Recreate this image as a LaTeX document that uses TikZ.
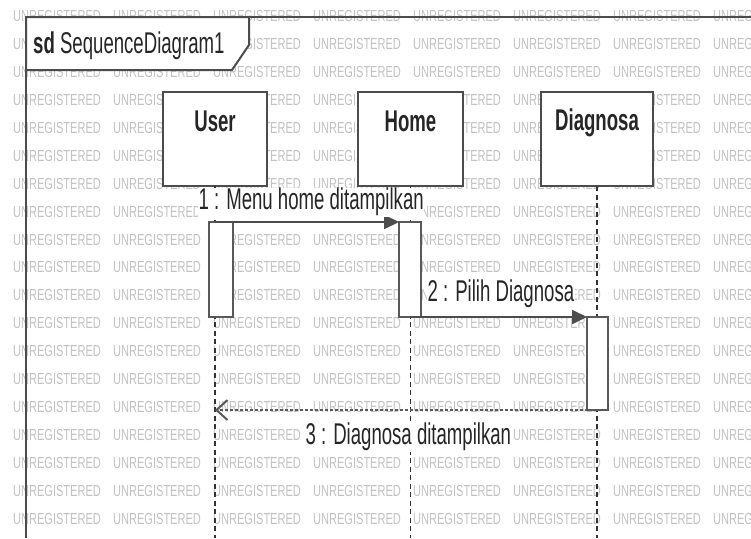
\documentclass[tikz,border=0pt]{standalone}
\usepackage{fontspec}
\usetikzlibrary{arrows.meta}
% Condensed sans for the diagram text and the tiled watermark
\newfontfamily\umlfont[FakeStretch=0.62]{Liberation Sans}
\newfontfamily\wmfont[FakeStretch=0.69]{Liberation Sans}

\begin{document}
\begin{tikzpicture}[x=1pt,y=-1pt,
  wm/.style={font=\wmfont\fontsize{16}{16}\selectfont, text=black!24, anchor=west, inner sep=0pt},
  frameline/.style={draw=black!70, line width=2pt},
  titletext/.style={font=\umlfont\fontsize{30}{30}\selectfont, text=black!85, anchor=base west, inner sep=0pt},
  lifebox/.style={draw=black!70, line width=2pt, fill=white, minimum width=104pt, minimum height=94pt, inner sep=0pt, outer sep=0pt},
  lifename/.style={font=\umlfont\bfseries\fontsize{30}{30}\selectfont, text=black!85, anchor=base, inner sep=0pt},
  actbar/.style={draw=black!65, line width=2pt, fill=white, minimum height=95pt, inner sep=0pt, outer sep=0pt},
  lifeline/.style={draw=black!80, line width=1.3pt, dash pattern=on 5pt off 3.5pt},
  msg/.style={draw=black!70, line width=2pt, -{Triangle[length=15pt,width=14pt]}},
  reply/.style={draw=black!65, line width=2pt, dash pattern=on 3pt off 2pt, -{Straight Barb[length=11pt,width=20pt]}},
  msglabel/.style={font=\umlfont\fontsize{30}{30}\selectfont, text=black!85, anchor=base west, fill=white, inner sep=0.5pt, text height=21pt, text depth=7pt}]

\useasboundingbox (0,0) rectangle (751,538);
\clip (0,0) rectangle (751,538);
\fill[white] (0,0) rectangle (751,538);

% Evaluation watermark tiled across the canvas
\foreach \i in {0,...,7}
  \foreach \j in {-3,...,15}
    \node[wm] (wm-\i-\j) at ({13+100*\i},{100+27.9*\j}) {UNREGISTERED};

% Interaction frame and its name tab
\coordinate (fbl) at (26,538);
\coordinate (ftl) at (26,17);
\coordinate (ftr) at (751,17);
\draw[frameline] (fbl) -- (ftl) -- (ftr);
\draw[frameline, fill=white] (26,17) -- (249,17) -- (249,45) -- (232,70) -- (26,70) -- cycle;
\node[titletext] (title) at (33,53) {\bfseries sd\mdseries\ SequenceDiagram1};

% Lifeline heads
\node[lifebox] (user) at (215,139) {};
\node[lifebox, minimum width=105pt] (home) at (410.5,139) {};
\node[lifebox, minimum width=112pt] (diag) at (597,139) {};
\node[lifename] (userlbl) at (215,131) {User};
\node[lifename] (homelbl) at (410.5,131) {Home};
\node[lifename] (diaglbl) at (597,130) {Diagnosa};

% Lifelines
\coordinate (bot) at (0,538);
\draw[lifeline] (user.south) -- (user.south |- bot);
\draw[lifeline] (home.south) -- (home.south |- bot);
\draw[lifeline] (diag.south) -- (diag.south |- bot);

% Activation bars
\node[actbar, minimum width=24pt] (useract) at (221,269.5) {};
\node[actbar, minimum width=22pt] (homeact) at (410,269.5) {};
\node[actbar, minimum width=21pt, minimum height=93pt] (diagact) at (597.5,363.5) {};

% Messages
\coordinate (m1s) at (215,222);
\coordinate (m3e) at (215,410);
\draw[msg] (m1s) -- (homeact.north west);
\draw[msg] (homeact.south) -- (diagact.north west);
\draw[reply] (diagact.south) -- (m3e);

\node[msglabel] (m1lbl) at (198,209) {1 : Menu home ditampilkan};
\node[msglabel] (m2lbl) at (427,301) {2 : Pilih Diagnosa};
\node[msglabel] (m3lbl) at (305,444) {3 : Diagnosa ditampilkan};
\end{tikzpicture}
\end{document}
